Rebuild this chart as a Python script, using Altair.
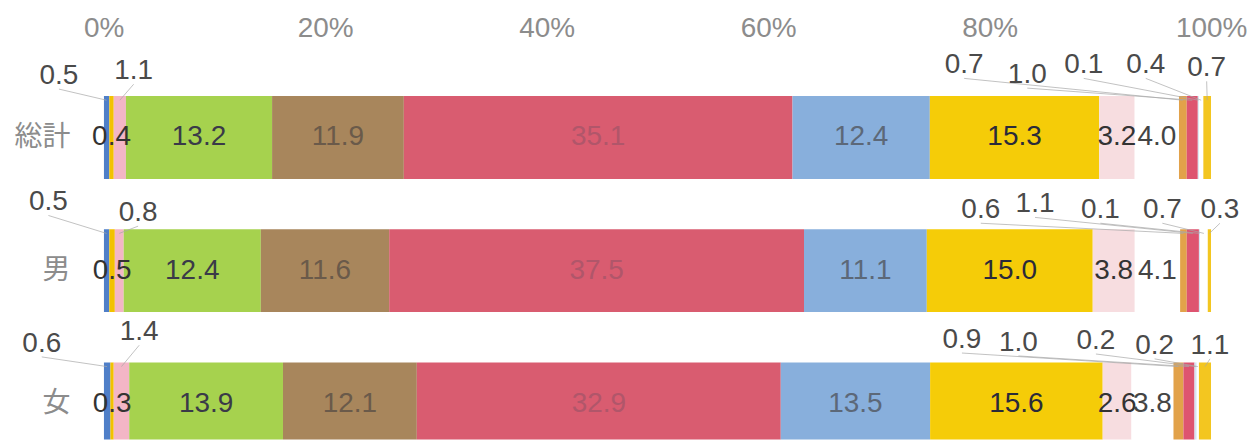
import altair as alt
import pandas as pd

# ---------------- data ----------------
rows = ["総計", "男", "女"]
total = [0.5, 0.4, 1.1, 13.2, 11.9, 35.1, 12.4, 15.3, 3.2, 4.0, 0.7, 1.0, 0.1, 0.4, 0.7]
male = [0.5, 0.5, 0.8, 12.4, 11.6, 37.5, 11.1, 15.0, 3.8, 4.1, 0.6, 1.1, 0.1, 0.7, 0.3]
female = [0.6, 0.3, 1.4, 13.9, 12.1, 32.9, 13.5, 15.6, 2.6, 3.8, 0.9, 1.0, 0.2, 0.2, 1.1]
tick_values = [0, 0.2, 0.4, 0.6, 0.8, 1.0]

# ---------------- styles / layout ----------------
seg_colors = ["#4f7fc8", "#f2c200", "#f3b6c6", "#a6d24e", "#a8865c", "#d95c70",
              "#88afdc", "#f5cc08", "#f7dde0", "#ffffff", "#e2a24a", "#de5470",
              "#d6e4f2", "#ffffff", "#f3c620"]
text_colors = ["#333333", "#333333", "#333333", "#3a3a48", "#6a5a4a", "#b0566a",
               "#5c6878", "#2a2a3a", "#333333", "#444444", "#444444", "#444444",
               "#444444", "#444444", "#444444"]
inside = [0, 1, 0, 1, 1, 1, 1, 1, 1, 1, 0, 0, 0, 0, 0]
# callout label positions: x in percent of axis, y offset in px from row centre
callout_x = [
    {0: -4.05, 2: 2.7, 10: 77.7, 11: 83.4, 12: 88.5, 13: 94.1, 14: 99.6},
    {0: -5.0, 2: 3.1, 10: 79.2, 11: 84.1, 12: 90.0, 13: 95.6, 14: 100.8},
    {0: -5.6, 2: 3.2, 10: 77.5, 11: 82.6, 12: 89.6, 13: 94.9, 14: 99.9},
]
callout_y = [
    {0: -63.5, 2: -68.5, 10: -74.5, 11: -64.5, 12: -74.5, 13: -74.5, 14: -71.5},
    {0: -70.5, 2: -59.5, 10: -62.5, 11: -68.5, 12: -62.5, 13: -62.5, 14: -62.5},
    {0: -62.0, 2: -74.0, 10: -66.0, 11: -63.0, 12: -65.0, 13: -60.0, 14: -60.0},
]
ROW_PX = 137.0

records = []
for ri, (name, vals) in enumerate(zip(rows, [total, male, female])):
    for i, v in enumerate(vals):
        rec = dict(ri=ri, row=name, seg=i, value=v, label=f"{v:.1f}",
                   inside=inside[i], fill=seg_colors[i], tcolor=text_colors[i])
        if i in callout_x[ri]:
            rec["cx"] = callout_x[ri][i] / 100.0
            rec["cyo"] = callout_y[ri][i] / ROW_PX
        records.append(rec)
df = pd.DataFrame(records)

xs = alt.Scale(domain=[0, 1], nice=False, zero=False)
ys = alt.Scale(domain=[-0.6314, 2.2299], reverse=True, nice=False, zero=False)

xaxis = alt.Axis(orient="top", values=tick_values, format=".0%", title=None,
                 grid=False, domain=False, ticks=False, labelPadding=6,
                 labelFontSize=28, labelColor="#8c8c8c",
                 labelFont="Liberation Sans", labelFlush=False)
yaxis = alt.Axis(values=[0, 1, 2], labelExpr="['総計','男','女'][datum.value]",
                 title=None, grid=False, domain=False, ticks=False,
                 labelPadding=34, labelFontSize=28, labelColor="#8c8c8c",
                 labelFont="Noto Sans CJK JP")

base = alt.Chart(df)

bars = base.mark_bar(size=83, clip=True, orient="horizontal").encode(
    x=alt.X("value:Q", stack="normalize", scale=xs, axis=xaxis),
    y=alt.Y("ri:Q", scale=ys, axis=yaxis),
    color=alt.Color("fill:N", scale=None),
    order=alt.Order("seg:Q", sort="ascending"),
)

stacked = base.transform_stack(
    stack="value", as_=["x0", "x1"], groupby=["ri"],
    sort=[alt.SortField(field="seg", order="ascending")], offset="normalize"
).transform_calculate(mid="(datum.x0 + datum.x1) / 2")

inside_text = stacked.transform_filter("datum.inside == 1").mark_text(
    fontSize=28, font="Liberation Sans", baseline="middle", align="center"
).encode(
    x=alt.X("mid:Q", scale=xs, axis=xaxis),
    y=alt.Y("ri:Q", scale=ys, axis=yaxis),
    text="label:N",
    color=alt.Color("tcolor:N", scale=None),
)

callouts = stacked.transform_filter("datum.inside == 0").transform_calculate(
    ly="datum.ri + datum.cyo",
    ly2="datum.ri + datum.cyo + 0.1",
    by="datum.ri - 0.28",
)

leaders = callouts.mark_rule(color="#a8a8a8", strokeWidth=1, opacity=0.7).encode(
    x=alt.X("cx:Q", scale=xs, axis=xaxis),
    y=alt.Y("ly2:Q", scale=ys, axis=yaxis),
    x2="mid:Q",
    y2="by:Q",
)

callout_text = callouts.mark_text(
    fontSize=28, font="Liberation Sans", baseline="middle", align="center", color="#4a4a4a"
).encode(
    x=alt.X("cx:Q", scale=xs, axis=xaxis),
    y=alt.Y("ly:Q", scale=ys, axis=yaxis),
    text="label:N",
)

chart = alt.layer(bars, leaders, inside_text, callout_text).properties(
    width=1110, height=392, autosize="none",
    padding={"left": 96, "top": 40, "right": 38, "bottom": 0},
    background="white",
).configure_view(stroke=None)

chart.save("out.html", embed_options={"renderer": "svg", "actions": False})
